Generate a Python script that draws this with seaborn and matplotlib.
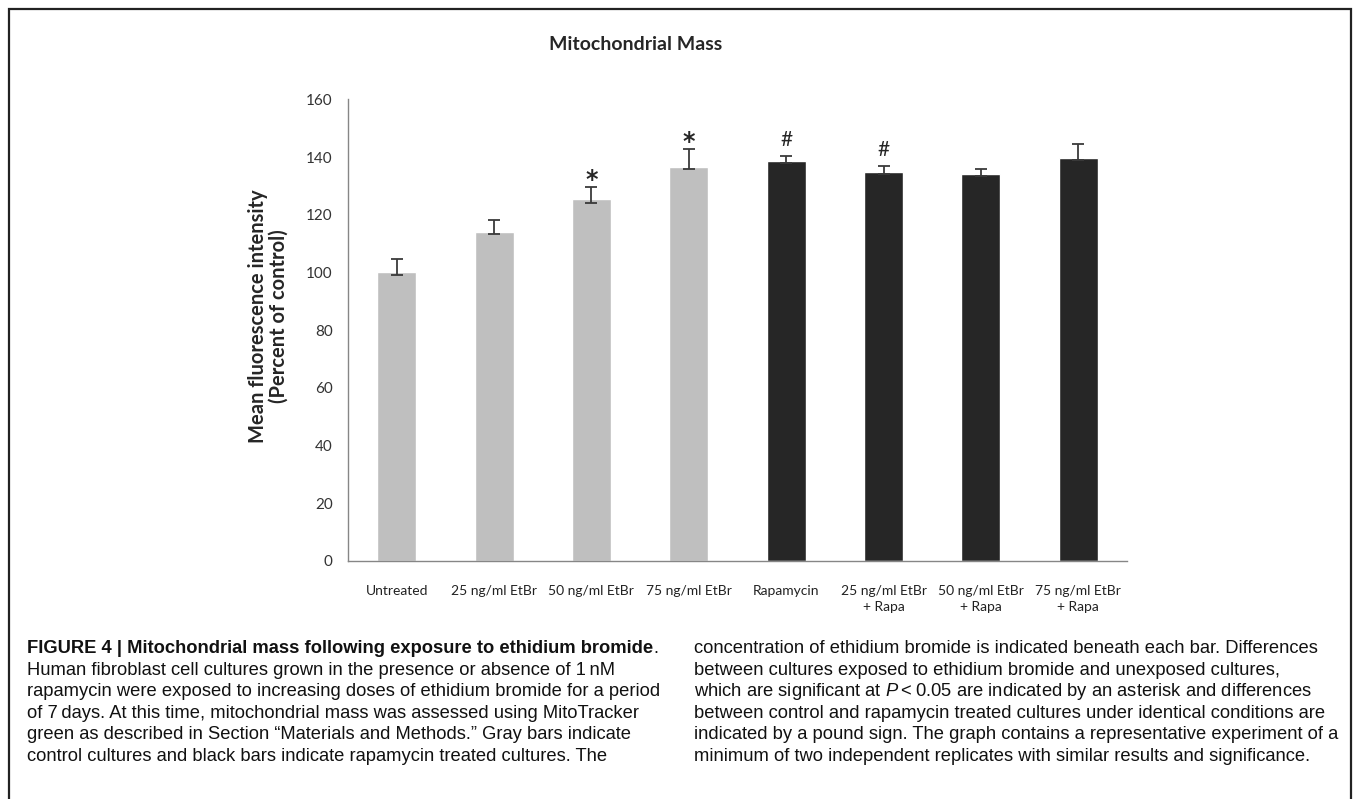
import numpy as np
import pandas as pd
import seaborn as sns
import matplotlib.pyplot as plt
from matplotlib.patches import Rectangle

# --- Data ---
categories = ['Untreated', '25 ng/ml EtBr', '50 ng/ml EtBr', '75 ng/ml EtBr',
              'Rapamycin', '25 ng/ml EtBr\n+ Rapa', '50 ng/ml EtBr\n+ Rapa',
              '75 ng/ml EtBr\n+ Rapa']
treatment = ['Control'] * 4 + ['Rapamycin'] * 4
mean_pct = [100.0, 113.9, 125.4, 136.6, 138.5, 134.7, 134.1, 139.5]
err_upper = [4.6, 4.2, 4.2, 6.1, 1.9, 2.2, 1.9, 4.9]
err_lower = [1.0, 0.7, 1.2, 0.7, 0.7, 0.7, 0.7, 0.7]
marks = ['', '', '*', '*', '#', '#', '', '']
y_ticks = [0, 20, 40, 60, 80, 100, 120, 140, 160]

caption_left = [
    "FIGURE 4 | Mitochondrial mass following exposure to ethidium bromide",
    "Human fibroblast cell cultures grown in the presence or absence of 1\u2009nM",
    "rapamycin were exposed to increasing doses of ethidium bromide for a period",
    "of 7\u2009days. At this time, mitochondrial mass was assessed using MitoTracker",
    "green as described in Section \u201cMaterials and Methods.\u201d Gray bars indicate",
    "control cultures and black bars indicate rapamycin treated cultures. The",
]
caption_right = [
    "concentration of ethidium bromide is indicated beneath each bar. Differences",
    "between cultures exposed to ethidium bromide and unexposed cultures,",
    "which are significant at $\\mathit{P}$\u2009<\u20090.05 are indicated by an asterisk and differences",
    "between control and rapamycin treated cultures under identical conditions are",
    "indicated by a pound sign. The graph contains a representative experiment of a",
    "minimum of two independent replicates with similar results and significance.",
]

df = pd.DataFrame({'condition': categories, 'treatment': treatment, 'mean': mean_pct})

sns.set_style('white')
plt.rcParams['font.family'] = ['Lato', 'DejaVu Sans']
plt.rcParams['mathtext.fontset'] = 'custom'
plt.rcParams['mathtext.it'] = 'Liberation Sans:italic'
plt.rcParams['mathtext.rm'] = 'Liberation Sans'

W, H = 1355, 799
fig = plt.figure(figsize=(W / 100, H / 100), dpi=100)
ax = fig.add_axes([348 / W, 1 - 561 / H, (1127 - 348) / W, (561 - 99.3) / H])

sns.barplot(data=df, x='condition', y='mean', hue='treatment',
            palette={'Control': '#bfbfbf', 'Rapamycin': '#262626'},
            dodge=False, width=0.4, legend=False, ax=ax)

xs = np.arange(len(categories))
ax.errorbar(xs, mean_pct, yerr=[err_lower, err_upper], fmt='none',
            ecolor='#3a3a3a', elinewidth=1.3, capsize=4, capthick=1.3)

for x, m, up, mk in zip(xs, mean_pct, err_upper, marks):
    if mk == '*':
        ax.text(x, m + up + 2.6, mk, ha='center', va='center', fontsize=17,
                family='DejaVu Sans', fontweight='bold')
    elif mk == '#':
        ax.text(x, m + up + 5.6, mk, ha='center', va='center', fontsize=15)

ax.set_xlim(-0.5, len(categories) - 0.5)
ax.set_ylim(0, 160)
ax.set_yticks(y_ticks)
ax.set_xticks(xs)
ax.set_xticklabels(categories, fontsize=10, linespacing=1.4)
ax.set_xticks(np.arange(-0.5, len(categories), 1), minor=True)
ax.tick_params(axis='x', which='major', length=0, pad=17)
ax.tick_params(axis='x', which='minor', length=7, color='#868686', width=1)
ax.tick_params(axis='y', length=5, color='#868686', width=1, labelsize=11, pad=6)
for lab in ax.get_yticklabels():
    lab.set_color('#333333')
for lab in ax.get_xticklabels():
    lab.set_color('#222222')

sns.despine(ax=ax)
for s in ['left', 'bottom']:
    ax.spines[s].set_color('#868686')
    ax.spines[s].set_linewidth(1)

ax.set_xlabel('')
ax.set_ylabel('Mean fluorescence intensity\n(Percent of control)',
              fontsize=14.5, fontweight='bold', linespacing=1.05)
ax.yaxis.set_label_coords((289 - 348) / (1127 - 348), 0.53)

fig.text(636 / W, 1 - 45 / H, 'Mitochondrial Mass', ha='center', va='center',
         fontsize=14, fontweight='bold')

# frame around the panel
fig.add_artist(Rectangle((9 / W, -0.05), (1351 - 9) / W, 1.05 - 9 / H,
                         transform=fig.transFigure, fill=False,
                         edgecolor='#222222', linewidth=1.6))

cap_font = ['Liberation Sans', 'DejaVu Sans']
cap_size = 13.25
for i, (l, r) in enumerate(zip(caption_left, caption_right)):
    yb = 1 - (653 + i * 21.6) / H
    t = fig.text(27 / W, yb, l, ha='left', va='baseline', fontsize=cap_size,
                 family=cap_font, color='#111111',
                 fontweight='bold' if i == 0 else 'normal')
    if i == 0:
        fig.canvas.draw()
        bb = t.get_window_extent()
        fig.text(bb.x1 / W, yb, '.', ha='left', va='baseline', fontsize=cap_size,
                 family=cap_font, color='#111111')
    fig.text(694 / W, yb, r, ha='left', va='baseline', fontsize=cap_size,
             family=cap_font, color='#111111')

fig.savefig('out.png', dpi=100)
